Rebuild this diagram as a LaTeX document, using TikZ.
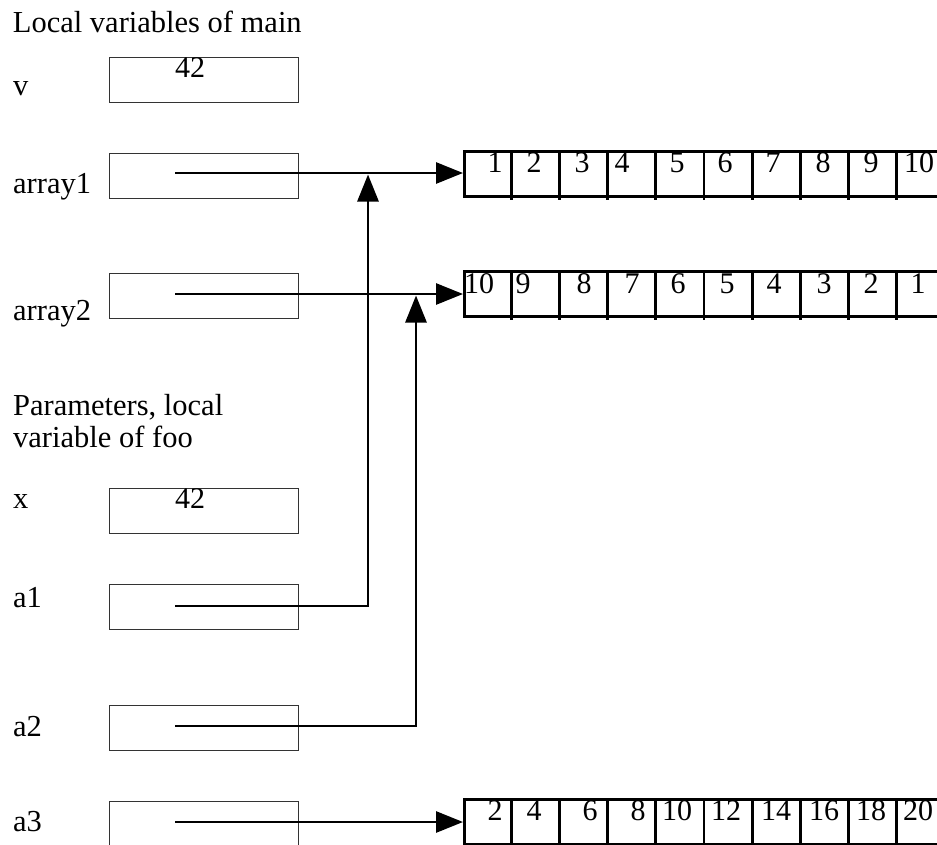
\documentclass[tikz,border=0pt]{standalone}
\usepackage{fontspec}
\setmainfont{Liberation Serif}
\usetikzlibrary{arrows.meta}
\begin{document}
\begin{tikzpicture}[x=1pt,y=-1pt,
  lbl/.style={anchor=base west, inner sep=0pt, font=\fontsize{30.5}{32}\selectfont},
  num/.style={anchor=base, inner sep=0pt, font=\fontsize{30}{32}\selectfont},
  var/.style={draw=black!80, line width=1.3pt, minimum width=189pt, minimum height=45pt, inner sep=0pt, anchor=north west},
  arr/.style={draw, line width=2.8pt, minimum width=482pt, minimum height=45pt, inner sep=0pt, anchor=north west},
  ptr/.style={line width=2.8pt, -{Triangle[length=27pt,width=21pt]}},
  divider/.style={line width=2.8pt},
]
\useasboundingbox (0,0) rectangle (937,844);
\clip (0,0) rectangle (937,844);

% labels
\node[lbl] (t1) at (12.7,32) {Local variables of main};
\node[lbl] (lv) at (13,95) {v};
\node[lbl] (la1) at (13,193) {array1};
\node[lbl] (la2) at (13,320) {array2};
\node[lbl] (t2) at (13,415) {Parameters, local};
\node[lbl] (t3) at (13,447) {variable of foo};
\node[lbl] (lx) at (13,508) {x};
\node[lbl] (lp1) at (13,607) {a1};
\node[lbl] (lp2) at (13,736) {a2};
\node[lbl] (lp3) at (13,831) {a3};

% variable boxes
\node[var] (bv) at (109,57) {};
\node[var] (barr1) at (109,153) {};
\node[var] (barr2) at (109,273) {};
\node[var] (bx) at (109,488) {};
\node[var] (ba1) at (109,584) {};
\node[var] (ba2) at (109,705) {};
\node[var] (ba3) at (109,801) {};

\node[num] (v42) at (190,77) {42};
\node[num] (x42) at (190,508) {42};

% arrays
\node[arr] (arr1) at (463,150) {};
\node[arr] (arr2) at (463,270) {};
\node[arr] (arr3) at (463,798) {};
\foreach \a in {arr1,arr2,arr3}{
  \foreach \k in {1,...,9}{
    \draw[divider] ([xshift=48.2*\k pt]\a.north west) -- ++(0,50);
  }
}

\foreach \x/\t [count=\i] in {495/1,534/2,582/3,622/4,677/5,725/6,773/7,823/8,871/9,919/10}
  \node[num] (na-\i) at (\x,172) {\t};
\foreach \x/\t [count=\i] in {479/10,523/9,584/8,632/7,678/6,727/5,774/4,824/3,871/2,918/1}
  \node[num] (nb-\i) at (\x,293) {\t};
\foreach \x/\t [count=\i] in {495/2,534/4,590/6,638/8,677/10,726/12,776/14,824/16,871/18,918/20}
  \node[num] (nc-\i) at (\x,820) {\t};

% pointers
\coordinate (p1) at (175,173);
\coordinate (p2) at (175,294);
\coordinate (pa1) at (175,606);
\coordinate (pa2) at (175,726);
\coordinate (pa3) at (175,822);
\coordinate (c1) at (368,174.5);
\coordinate (c2) at (416,295.5);

\draw[ptr] (p1) -- (p1 -| arr1.west);
\draw[ptr] (p2) -- (p2 -| arr2.west);
\draw[ptr] (pa3) -- (pa3 -| arr3.west);
\draw[ptr] (pa1) -| (c1);
\draw[ptr] (pa2) -| (c2);
\end{tikzpicture}
\end{document}
